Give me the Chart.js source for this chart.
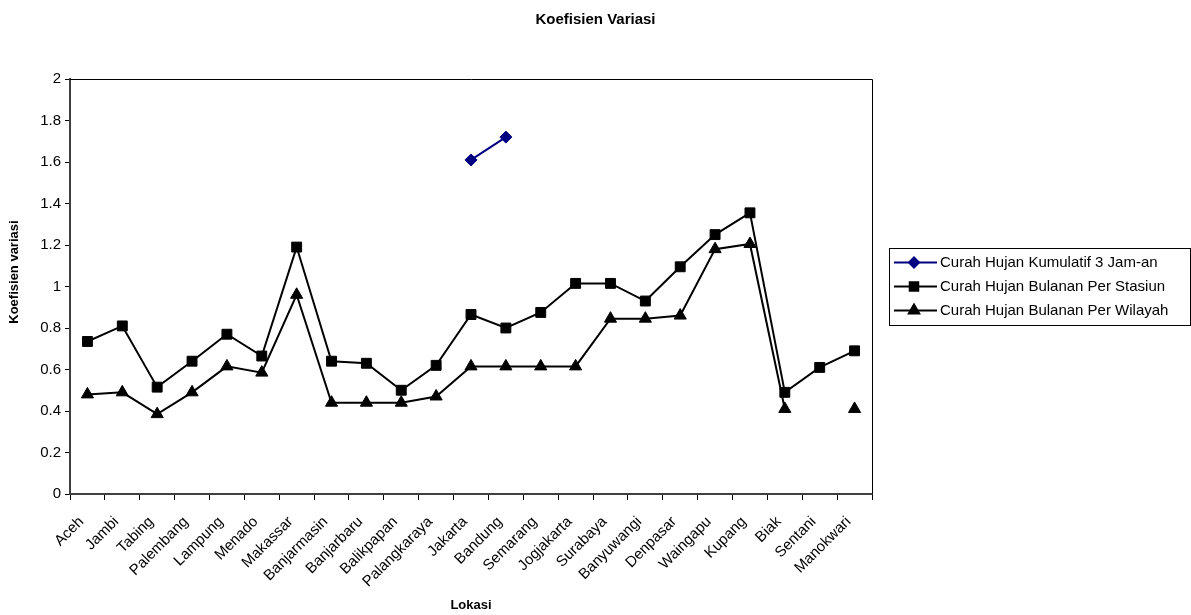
<!DOCTYPE html>
<html>
<head>
<meta charset="utf-8">
<title>Koefisien Variasi</title>
<script src="https://cdn.jsdelivr.net/npm/chart.js@4.4.1/dist/chart.umd.min.js"></script>
<style>
  html, body { margin: 0; padding: 0; background: #ffffff; }
  #wrap { width: 1191px; height: 615px; }
</style>
</head>
<body>
<div id="wrap"><canvas id="chart" width="1191" height="615"></canvas></div>
<script>
// Categories (x axis)
const lokasi = ['Aceh', 'Jambi', 'Tabing', 'Palembang', 'Lampung', 'Menado', 'Makassar', 'Banjarmasin',
    'Banjarbaru', 'Balikpapan', 'Palangkaraya', 'Jakarta', 'Bandung', 'Semarang', 'Jogjakarta',
    'Surabaya', 'Banyuwangi', 'Denpasar', 'Waingapu', 'Kupang', 'Biak', 'Sentani', 'Manokwari'];

// Series values
const kumulatif3Jam = [null, null, null, null, null, null, null, null, null, null, null,
    1.61, 1.72, null, null, null, null, null, null, null, null, null, null];
const bulananStasiun = [0.735, 0.81, 0.515, 0.64, 0.77, 0.665, 1.19, 0.64, 0.63, 0.50, 0.62,
    0.865, 0.80, 0.875, 1.015, 1.015, 0.93, 1.095, 1.25, 1.355, 0.49, 0.61, 0.69];
const bulananWilayah = [0.48, 0.49, 0.385, 0.49, 0.615, 0.585, 0.96, 0.44, 0.44, 0.44, 0.47,
    0.615, 0.615, 0.615, 0.615, 0.845, 0.845, 0.86, 1.18, 1.205, 0.41, null, 0.41];

const seriesNames = ['Curah Hujan Kumulatif 3 Jam-an', 'Curah Hujan Bulanan Per Stasiun', 'Curah Hujan Bulanan Per Wilayah'];

// Y axis range
const yMin = 0;
const yMax = 2;
const yStep = 0.2;

const FONT = "'Liberation Sans', Arial, sans-serif";

// Frame on top and right of the plot area (Excel style)
const framePlugin = {
    id: 'frame',
    afterDatasetsDraw(chart) {
        const { ctx, chartArea } = chart;
        ctx.save();
        ctx.strokeStyle = '#000000';
        ctx.lineWidth = 1;
        ctx.beginPath();
        ctx.moveTo(chartArea.left, chartArea.top + 0.5);
        ctx.lineTo(chartArea.right + 0.5, chartArea.top + 0.5);
        ctx.lineTo(chartArea.right + 0.5, chartArea.bottom);
        ctx.stroke();
        ctx.restore();
    }
};

// Boxed legend with line + marker samples, like the Excel legend
const boxLegendPlugin = {
    id: 'boxLegend',
    afterDraw(chart) {
        const { ctx } = chart;
        const left = 889, top = 248, width = 301, height = 77;
        ctx.save();
        ctx.fillStyle = '#ffffff';
        ctx.fillRect(left, top, width, height);
        ctx.strokeStyle = '#000000';
        ctx.lineWidth = 1;
        ctx.strokeRect(left + 0.5, top + 0.5, width, height);

        chart.data.datasets.forEach((ds, i) => {
            const y = top + 14.5 + i * 24;
            ctx.strokeStyle = ds.borderColor;
            ctx.lineWidth = 2;
            ctx.beginPath();
            ctx.moveTo(894, y);
            ctx.lineTo(937, y);
            ctx.stroke();
            ctx.fillStyle = ds.pointBackgroundColor;
            ctx.strokeStyle = ds.pointBorderColor;
            Chart.helpers.drawPoint(ctx, {
                pointStyle: ds.pointStyle,
                radius: ds.legendRadius,
                borderWidth: 1,
                rotation: 0
            }, 914, y);
            ctx.fillStyle = '#000000';
            ctx.font = '15px ' + FONT;
            ctx.textAlign = 'left';
            ctx.textBaseline = 'middle';
            ctx.fillText(ds.label, 940, y + 0.5);
        });
        ctx.restore();
    }
};

const ctx = document.getElementById('chart').getContext('2d');
new Chart(ctx, {
    type: 'line',
    data: {
        labels: lokasi,
        datasets: [
            {
                label: seriesNames[0],
                data: kumulatif3Jam,
                borderColor: '#000080',
                backgroundColor: '#000080',
                pointBackgroundColor: '#000080',
                pointBorderColor: '#000080',
                pointStyle: 'rectRot',
                pointRadius: 6,
                legendRadius: 5,
                pointBorderWidth: 1,
                borderWidth: 2,
                spanGaps: false,
                tension: 0
            },
            {
                label: seriesNames[1],
                data: bulananStasiun,
                borderColor: '#000000',
                backgroundColor: '#000000',
                pointBackgroundColor: '#000000',
                pointBorderColor: '#000000',
                pointStyle: 'rect',
                pointRadius: 7,
                legendRadius: 6,
                pointBorderWidth: 1,
                borderWidth: 2,
                spanGaps: false,
                tension: 0
            },
            {
                label: seriesNames[2],
                data: bulananWilayah,
                borderColor: '#000000',
                backgroundColor: '#000000',
                pointBackgroundColor: '#000000',
                pointBorderColor: '#000000',
                pointStyle: 'triangle',
                pointRadius: 7,
                legendRadius: 6,
                pointBorderWidth: 1,
                borderWidth: 2,
                spanGaps: false,
                tension: 0
            }
        ]
    },
    options: {
        responsive: false,
        animation: false,
        layout: {
            padding: 0
        },
        plugins: {
            legend: { display: false },
            tooltip: { enabled: false },
            title: {
                display: true,
                text: 'Koefisien Variasi',
                color: '#000000',
                font: { family: FONT, size: 15, weight: 'bold' },
                padding: { top: 11, bottom: 50 }
            }
        },
        scales: {
            x: {
                type: 'category',
                offset: true,
                grid: {
                    display: true,
                    offset: true,
                    drawOnChartArea: false,
                    drawTicks: true,
                    tickLength: 6,
                    color: '#000000',
                    lineWidth: 1
                },
                border: { display: true, color: '#404040', width: 2 },
                ticks: {
                    autoSkip: false,
                    maxRotation: 45,
                    minRotation: 45,
                    padding: 13,
                    labelOffset: -6,
                    color: '#000000',
                    font: { family: FONT, size: 15 }
                },
                title: {
                    display: true,
                    text: 'Lokasi',
                    color: '#000000',
                    font: { family: FONT, size: 13, weight: 'bold' },
                    padding: { top: 0, bottom: 2 }
                },
                afterFit(scale) {
                    scale.height = 121;
                }
            },
            y: {
                min: yMin,
                max: yMax,
                grid: {
                    display: true,
                    drawOnChartArea: false,
                    drawTicks: true,
                    tickLength: 5,
                    color: '#000000',
                    lineWidth: 1
                },
                border: { display: true, color: '#404040', width: 2 },
                ticks: {
                    stepSize: yStep,
                    padding: 4,
                    color: '#000000',
                    font: { family: FONT, size: 15 },
                    callback: v => String(Number(v.toFixed(1)))
                },
                title: {
                    display: true,
                    text: '        Koefisien variasi',
                    color: '#000000',
                    font: { family: FONT, size: 13, weight: 'bold' },
                    padding: { top: 7, bottom: 0 }
                },
                afterFit(scale) {
                    scale.width = 70;
                }
            },
            // empty right-hand axis that reserves the space taken by the legend box
            legendSpace: {
                type: 'linear',
                position: 'right',
                display: true,
                grid: { display: false },
                border: { display: false },
                ticks: { display: false },
                afterFit(scale) {
                    scale.width = 319;
                }
            }
        }
    },
    plugins: [framePlugin, boxLegendPlugin]
});
</script>
</body>
</html>
